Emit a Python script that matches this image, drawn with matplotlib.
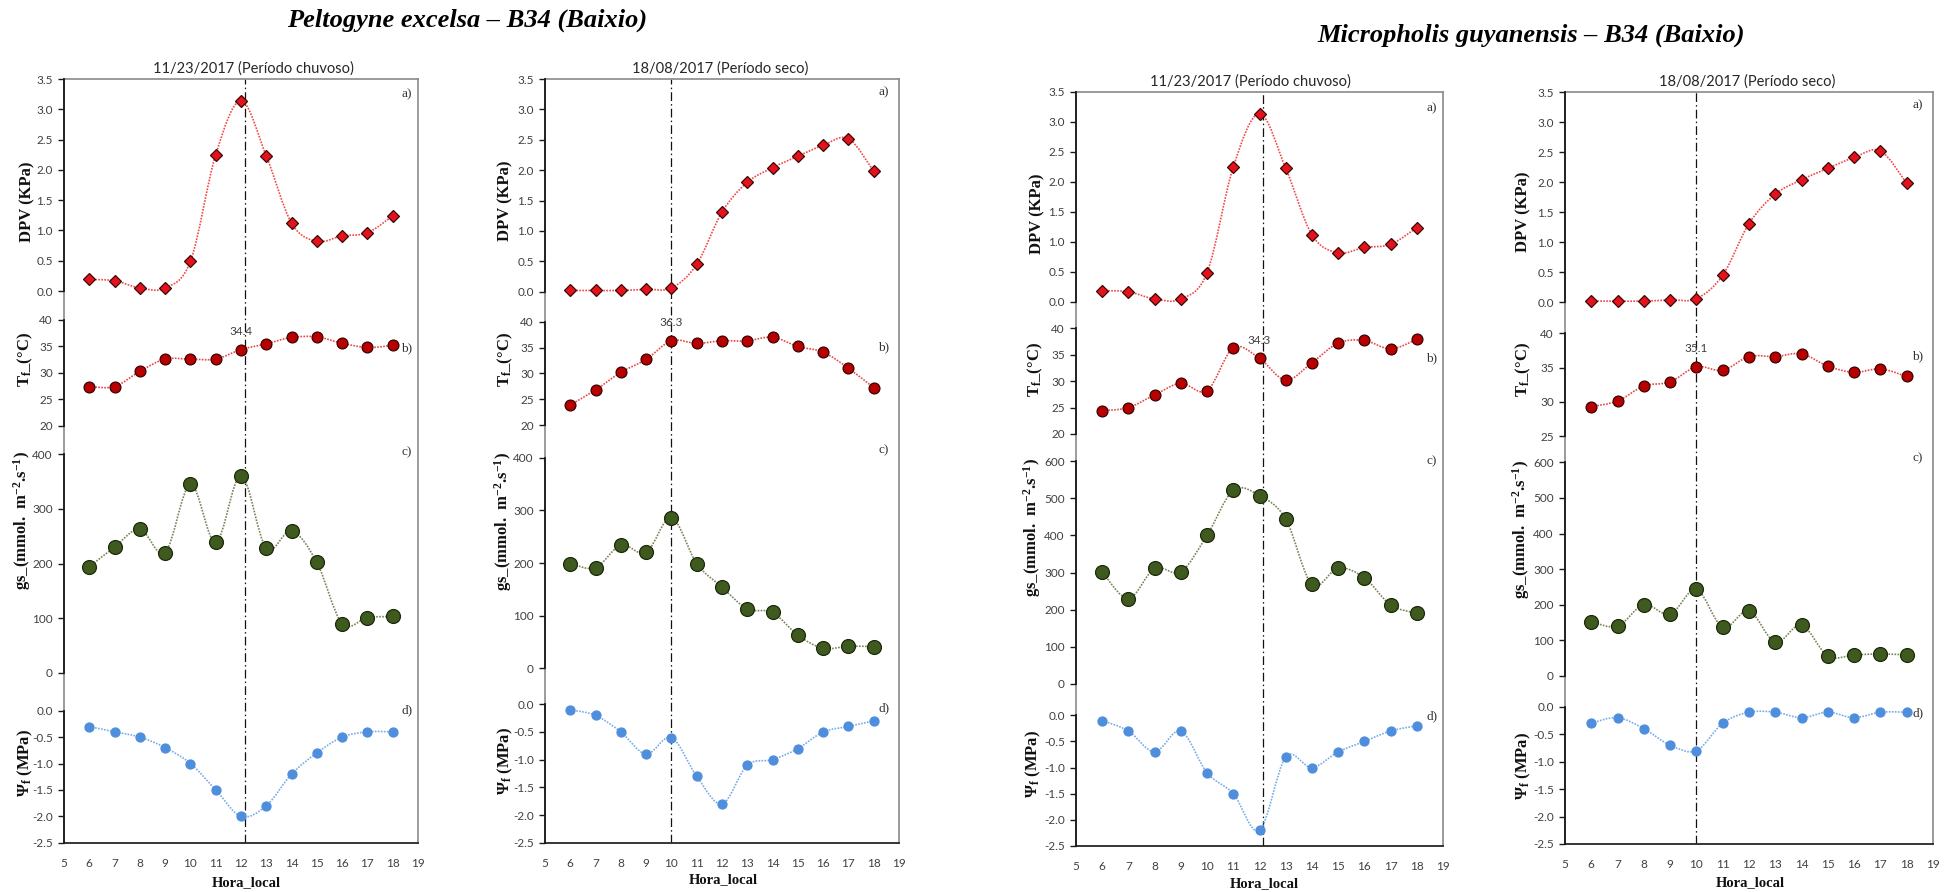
import numpy as np
import matplotlib
matplotlib.use("Agg")
import matplotlib.pyplot as plt
from matplotlib.path import Path
from matplotlib.patches import PathPatch
from matplotlib.ticker import FormatStrFormatter

plt.rcParams["font.family"] = ["Lato", "DejaVu Sans"]
plt.rcParams["axes.unicode_minus"] = False
plt.rcParams["mathtext.fontset"] = "custom"
plt.rcParams["mathtext.rm"] = "Liberation Serif:bold"
plt.rcParams["mathtext.it"] = "Liberation Serif:bold"
plt.rcParams["mathtext.bf"] = "Liberation Serif:bold"

# ---------------- data ----------------
hours = [6, 7, 8, 9, 10, 11, 12, 13, 14, 15, 16, 17, 18]

dpv_chuvoso = [0.19, 0.17, 0.05, 0.05, 0.49, 2.25, 3.14, 2.23, 1.12, 0.82, 0.91, 0.96, 1.24]
dpv_seco = [0.02, 0.02, 0.02, 0.04, 0.06, 0.45, 1.31, 1.80, 2.04, 2.23, 2.41, 2.52, 1.98]

pe_chuvoso_tf = [27.4, 27.4, 30.3, 32.6, 32.6, 32.6, 34.4, 35.5, 36.7, 36.8, 35.6, 34.8, 35.2]
pe_chuvoso_gs = [194, 230, 263, 220, 345, 239, 361, 228, 260, 202, 90, 101, 103]
pe_chuvoso_psi = [-0.3, -0.4, -0.5, -0.7, -1.0, -1.5, -2.0, -1.8, -1.2, -0.8, -0.5, -0.4, -0.4]

pe_seco_tf = [23.9, 26.8, 30.2, 32.7, 36.3, 35.8, 36.3, 36.3, 37.0, 35.2, 34.1, 31.0, 27.2]
pe_seco_gs = [199, 191, 234, 220, 286, 199, 154, 113, 106, 63, 38, 42, 41]
pe_seco_psi = [-0.1, -0.2, -0.5, -0.9, -0.6, -1.3, -1.8, -1.1, -1.0, -0.8, -0.5, -0.4, -0.3]

mg_chuvoso_tf = [24.4, 25.0, 27.4, 29.6, 28.2, 36.3, 34.3, 30.2, 33.5, 37.2, 37.7, 36.1, 37.9]
mg_chuvoso_gs = [302, 230, 311, 302, 400, 521, 507, 444, 268, 312, 286, 213, 190]
mg_chuvoso_psi = [-0.1, -0.3, -0.7, -0.3, -1.1, -1.5, -2.2, -0.8, -1.0, -0.7, -0.5, -0.3, -0.2]

mg_seco_tf = [29.3, 30.1, 32.3, 32.9, 35.1, 34.6, 36.6, 36.6, 37.0, 35.2, 34.3, 34.8, 33.7]
mg_seco_gs = [152, 140, 200, 173, 243, 137, 183, 95, 143, 56, 59, 62, 59]
mg_seco_psi = [-0.3, -0.2, -0.4, -0.7, -0.8, -0.3, -0.1, -0.1, -0.2, -0.1, -0.2, -0.1, -0.1]

species_titles = ["Peltogyne excelsa – B34 (Baixio)", "Micropholis guyanensis – B34 (Baixio)"]
date_titles = ["11/23/2017 (Período chuvoso)", "18/08/2017 (Período seco)",
               "11/23/2017 (Período chuvoso)", "18/08/2017 (Período seco)"]
peak_hours = [12.15, 10, 12.15, 10]
peak_tf_hours = [12, 10, 12, 10]
x_ticks = list(range(5, 20))
sub_labels = ["a)", "b)", "c)", "d)"]

panel_series = [
    (dpv_chuvoso, pe_chuvoso_tf, pe_chuvoso_gs, pe_chuvoso_psi),
    (dpv_seco, pe_seco_tf, pe_seco_gs, pe_seco_psi),
    (dpv_chuvoso, mg_chuvoso_tf, mg_chuvoso_gs, mg_chuvoso_psi),
    (dpv_seco, mg_seco_tf, mg_seco_gs, mg_seco_psi),
]

# ---------------- layout (pixels) ----------------
W, H = 1954, 892
fig = plt.figure(figsize=(W / 100, H / 100), dpi=100)
fig.patch.set_facecolor("white")


def fig_rect(x0, x1, ytop, ybot):
    return [x0 / W, 1 - ybot / H, (x1 - x0) / W, (ybot - ytop) / H]


# frame: x0, x1, ytop, ybot ; sub-axes: (ytop, ybot, ymin, ymax)
layouts = [
    dict(frame=(64, 418, 79, 842.7),
         subs=[(79, 291, 0, 3.5), (320, 425.7, 20, 40), (454.3, 672.7, 0, 400), (710.7, 842.7, -2.5, 0)],
         gs_ticks=np.arange(0, 401, 100), tf_ticks=[20, 25, 30, 35, 40],
         ylab_x=[27, 25, 22, 25], ylab_y=[202, 360, 520, 763],
         tag_xy=[(407, 94), (407, 348), (407, 452), (407, 710)],
         title_xy=(253, 69), xlab_xy=(246, 882.7)),
    dict(frame=(545, 899, 79, 842.7),
         subs=[(79, 291.7, 0, 3.5), (321.7, 425, 20, 40), (457.7, 668.3, 0, 400), (704.3, 842.7, -2.5, 0)],
         gs_ticks=np.arange(0, 401, 100), tf_ticks=[20, 25, 30, 35, 40],
         ylab_x=[505, 505, 503, 505], ylab_y=[201, 360, 521, 761],
         tag_xy=[(884, 92), (884, 347), (884, 450), (884, 708)],
         title_xy=(720, 69), xlab_xy=(723, 880)),
    dict(frame=(1076, 1443, 92, 846),
         subs=[(92, 302, 0, 3.5), (328.3, 434, 20, 40), (461, 684, 0, 600), (715.3, 846, -2.5, 0)],
         gs_ticks=np.arange(0, 601, 100), tf_ticks=[20, 25, 30, 35, 40],
         ylab_x=[1037, 1035, 1032, 1033], ylab_y=[214, 370, 527, 764],
         tag_xy=[(1432, 108), (1432, 358), (1432, 461), (1432, 716)],
         title_xy=(1250, 82), xlab_xy=(1264, 884)),
    dict(frame=(1565, 1933, 92, 844),
         subs=[(92, 302.3, 0, 3.5), (333.3, 436, 25, 40), (462.3, 676, 0, 600), (706.7, 844, -2.5, 0)],
         gs_ticks=np.arange(0, 601, 100), tf_ticks=[25, 30, 35, 40],
         ylab_x=[1523, 1523, 1521, 1523], ylab_y=[212, 370, 529, 766],
         tag_xy=[(1918, 105), (1918, 356), (1918, 458), (1918, 713)],
         title_xy=(1747, 82), xlab_xy=(1750, 882.7)),
]

y_labels = ["DPV (KPa)", "T$_{\\mathrm{f}}$_(°C)",
            "gs_(mmol.  m$^{\\mathrm{-2}}$.s$^{\\mathrm{-1}}$)", "Ψ$_{\\mathrm{f}}$ (MPa)"]

# marker / line styles for the four variables
styles = [
    dict(marker="D", ms=6.3, mfc="#E5121B", mec="#3A0808", line="#F24848"),
    dict(marker="o", ms=7.8, mfc="#B80000", mec="#3A0000", line="#E84848"),
    dict(marker="o", ms=10.0, mfc="#3E5A1E", mec="#1C2A0C", line="#7A8458"),
    dict(marker="o", ms=6.5, mfc="#4F8EDC", mec="#4F8EDC", line="#78ACE8"),
]

TICK_COLOR = "#404040"
FRAME_COLOR = "#8A8A8A"


def smooth_path(x, y):
    """Cubic Bezier path through the points (Catmull-Rom style control points)."""
    pts = np.column_stack([x, y]).astype(float)
    ext = np.vstack([pts[0], pts, pts[-1]])
    verts = [pts[0]]
    codes = [Path.MOVETO]
    for i in range(len(pts) - 1):
        p0, p1, p2, p3 = ext[i], ext[i + 1], ext[i + 2], ext[i + 3]
        verts += [p1 + (p2 - p0) / 6.0, p2 - (p3 - p1) / 6.0, p2]
        codes += [Path.CURVE4] * 3
    return Path(verts, codes)


for k, lay in enumerate(layouts):
    x0, x1, ytop, ybot = lay["frame"]
    frame = fig.add_axes(fig_rect(x0, x1, ytop, ybot), zorder=0)
    frame.set_xlim(5, 19)
    frame.set_ylim(0, 1)
    frame.set_yticks([])
    frame.set_xticks(x_ticks)
    frame.tick_params(axis="x", length=0, pad=11, labelsize=8.5, labelcolor=TICK_COLOR)
    for side in ["top", "right", "left"]:
        frame.spines[side].set_color(FRAME_COLOR)
        frame.spines[side].set_linewidth(1.2)
    frame.spines["bottom"].set_color("#262626")
    frame.spines["bottom"].set_linewidth(1.3)
    frame.axvline(peak_hours[k], color="#111111", lw=0.9, ls=(0, (7, 2.5, 1.2, 2.5)))

    series = panel_series[k]
    for j, (sy0, sy1, ymin, ymax) in enumerate(lay["subs"]):
        ax = fig.add_axes(fig_rect(x0, x1, sy0, sy1), zorder=2 + j)
        ax.patch.set_visible(False)
        ax.set_xlim(5, 19)
        ax.set_ylim(ymin, ymax)
        ax.set_xticks([])
        for side in ["top", "right", "bottom"]:
            ax.spines[side].set_visible(False)
        ax.spines["left"].set_color("#1A1A1A")
        ax.spines["left"].set_linewidth(1.3)
        if j == 0:
            ax.set_yticks(np.arange(0, 3.51, 0.5))
            ax.yaxis.set_major_formatter(FormatStrFormatter("%.1f"))
        elif j == 1:
            ax.set_yticks(lay["tf_ticks"])
        elif j == 2:
            ax.set_yticks(lay["gs_ticks"])
        else:
            ax.set_yticks(np.arange(-2.5, 0.01, 0.5))
            ax.yaxis.set_major_formatter(FormatStrFormatter("%.1f"))
        ax.tick_params(axis="y", direction="out", length=4, width=1, color="#1A1A1A",
                       labelsize=8.5, labelcolor=TICK_COLOR, pad=4)

        st = styles[j]
        vals = series[j]
        patch = PathPatch(smooth_path(hours, vals), fill=False, edgecolor=st["line"],
                          lw=1.2, ls=(0, (1.0, 0.8)), clip_on=False, zorder=3)
        ax.add_patch(patch)
        ax.plot(hours, vals, ls="none", marker=st["marker"], ms=st["ms"],
                mfc=st["mfc"], mec=st["mec"], mew=0.9, clip_on=False, zorder=4)

        if j == 1:
            hi = hours.index(peak_tf_hours[k])
            ax.annotate(f"{vals[hi]:.1f}", (hours[hi], vals[hi]), xytext=(0, 18),
                        textcoords="offset pixels", ha="center", va="center",
                        fontsize=8.5, color=TICK_COLOR, zorder=6)

        fig.text(lay["ylab_x"][j] / W, 1 - lay["ylab_y"][j] / H, y_labels[j],
                 rotation=90, ha="center", va="center", fontsize=12,
                 family="Liberation Serif", weight="bold", color="#111111")
        tx, ty = lay["tag_xy"][j]
        fig.text(tx / W, 1 - ty / H, sub_labels[j], ha="center", va="center",
                 fontsize=9.5, family="Liberation Serif", color="#333333")

    tx, ty = lay["title_xy"]
    fig.text(tx / W, 1 - ty / H, date_titles[k], ha="center", va="center",
             fontsize=10.5, color="#262626")
    lx, ly = lay["xlab_xy"]
    fig.text(lx / W, 1 - ly / H, "Hora_local", ha="center", va="center",
             fontsize=10.5, family="Liberation Serif", weight="bold", color="#111111")

fig.text(467 / W, 1 - 20 / H, species_titles[0], ha="center", va="center",
         fontsize=19, family="Liberation Serif", weight="bold", style="italic")
fig.text(1531 / W, 1 - 35 / H, species_titles[1], ha="center", va="center",
         fontsize=19, family="Liberation Serif", weight="bold", style="italic")

fig.savefig("out.png", dpi=100)
